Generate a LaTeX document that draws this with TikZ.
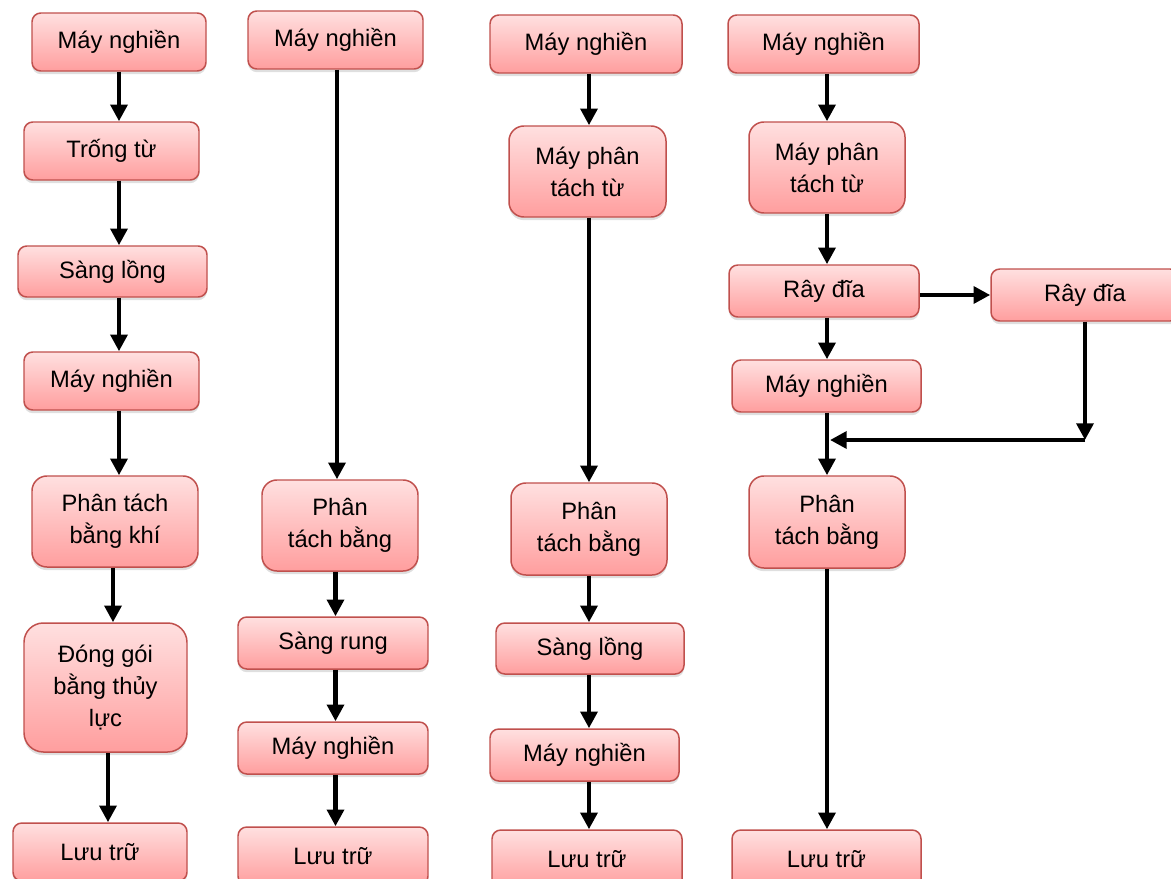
\documentclass[tikz,border=0pt]{standalone}
\usepackage{fontspec}
\setmainfont{Liberation Sans}
\usetikzlibrary{arrows.meta,shadows}

\definecolor{boxtop}{RGB}{255,224,224}
\definecolor{boxbot}{RGB}{255,158,158}
\definecolor{boxedge}{RGB}{192,80,77}

\begin{document}
\begin{tikzpicture}[x=0.02cm,y=-0.02cm,
  proc/.style n args={2}{draw=boxedge, line width=0.85pt,
    top color=boxtop, bottom color=boxbot,
    rounded corners=5pt, align=center, inner sep=0pt,
    minimum width=#1*0.02cm, minimum height=#2*0.02cm,
    font=\fontsize{13.5}{18.2}\selectfont,
    drop shadow={opacity=0.25, shadow xshift=0pt, shadow yshift=-1.8pt}},
  tallproc/.style={rounded corners=8.5pt},
  tallestproc/.style={rounded corners=11pt},
  flow/.style={line width=2.4pt, -{Triangle[length=9.5pt,width=9.5pt]}}
]
\useasboundingbox (0,0) rectangle (1171,879);
\clip (0,0) rectangle (1171,879);

% ---- first line: magnetic drum ----
\node[proc={174}{58}] (a1) at (119,42) {Máy nghiền};
\node[proc={175}{58}] (a2) at (111.5,151) {Trống từ};
\node[proc={189}{51}] (a3) at (112.5,271.5) {Sàng lồng};
\node[proc={175}{58}] (a4) at (111.5,381) {Máy nghiền};
\node[proc={166}{91},tallproc] (a5) at (115,521.5) {Phân tách\\bằng khí};
\node[proc={163}{129},tallestproc] (a6) at (105.5,687.5) {Đóng gói\\bằng thủy\\lực};
\node[proc={174}{58}] (a7) at (100,852) {Lưu trữ};

\draw[flow] (a1.south) -- (a1.south |- a2.north);
\draw[flow] (a2.south -| a1) -- (a3.north -| a1);
\draw[flow] (a3.south -| a1) -- (a4.north -| a1);
\draw[flow] (a4.south -| a1) -- (a5.north -| a1);
\draw[flow] ([xshift=-0.04cm]a5.south) -- ([xshift=-0.04cm]a5.south |- a6.north);
\draw[flow] ([xshift=0.05cm]a6.south) -- ([xshift=0.05cm]a6.south |- a7.north);

% ---- second line: vibrating screen ----
\node[proc={175}{58}] (b1) at (335.5,40) {Máy nghiền};
\node[proc={156}{91},tallproc] (b2) at (340,525.5) {Phân\\tách bằng};
\node[proc={190}{52}] (b3) at (333,643) {Sàng rung};
\node[proc={190}{52}] (b4) at (333,748) {Máy nghiền};
\node[proc={190}{58}] (b5) at (333,856) {Lưu trữ};

\draw[flow] ([xshift=0.03cm]b1.south) -- ([xshift=0.03cm]b1.south |- b2.north);
\draw[flow] (b2.south -| b1) -- (b3.north -| b1);
\draw[flow] (b3.south -| b1) -- (b4.north -| b1);
\draw[flow] (b4.south -| b1) -- (b5.north -| b1);

% ---- third line: magnetic separator ----
\node[proc={192}{58}] (c1) at (586,44) {Máy nghiền};
\node[proc={157}{91},tallproc] (c2) at (587.5,171.5) {Máy phân\\tách từ};
\node[proc={156}{92},tallproc] (c3) at (589,529) {Phân\\tách bằng};
\node[proc={188}{51}] (c4) at (590,648.5) {Sàng lồng};
\node[proc={189}{52}] (c5) at (584.5,755) {Máy nghiền};
\node[proc={190}{58}] (c6) at (587,859) {Lưu trữ};

\draw[flow] (c1.south -| c3) -- (c2.north -| c3);
\draw[flow] (c2.south -| c3) -- (c3.north);
\draw[flow] (c3.south) -- (c4.north -| c3);
\draw[flow] (c4.south -| c3) -- (c5.north -| c3);
\draw[flow] (c5.south -| c3) -- (c6.north -| c3);

% ---- fourth line: disc screens ----
\node[proc={191}{58}] (d1) at (823.5,44) {Máy nghiền};
\node[proc={156}{91},tallproc] (d2) at (827,167.5) {Máy phân\\tách từ};
\node[proc={190}{52}] (d3) at (824,291) {Rây đĩa};
\node[proc={188}{52}] (d4) at (1085,295) {Rây đĩa};
\node[proc={189}{52}] (d5) at (826.5,386) {Máy nghiền};
\node[proc={156}{92},tallproc] (d6) at (827,522) {Phân\\tách bằng};
\node[proc={189}{58}] (d7) at (826.5,859) {Lưu trữ};
\coordinate (j1) at (1085,440);
\coordinate (j2) at (830,440);

\draw[flow] (d1.south -| d2) -- (d2.north);
\draw[flow] (d2.south) -- (d3.north -| d2);
\draw[flow] (d3.east |- d4) -- (d4.west);
\draw[flow] (d3.south -| d2) -- (d5.north -| d2);
\draw[flow] (d4.south) -- (j1);
\draw[flow] (j1) -- (j2);
\draw[flow] (d5.south -| d2) -- (d6.north);
\draw[flow] (d6.south) -- (d7.north -| d6);
\end{tikzpicture}
\end{document}
